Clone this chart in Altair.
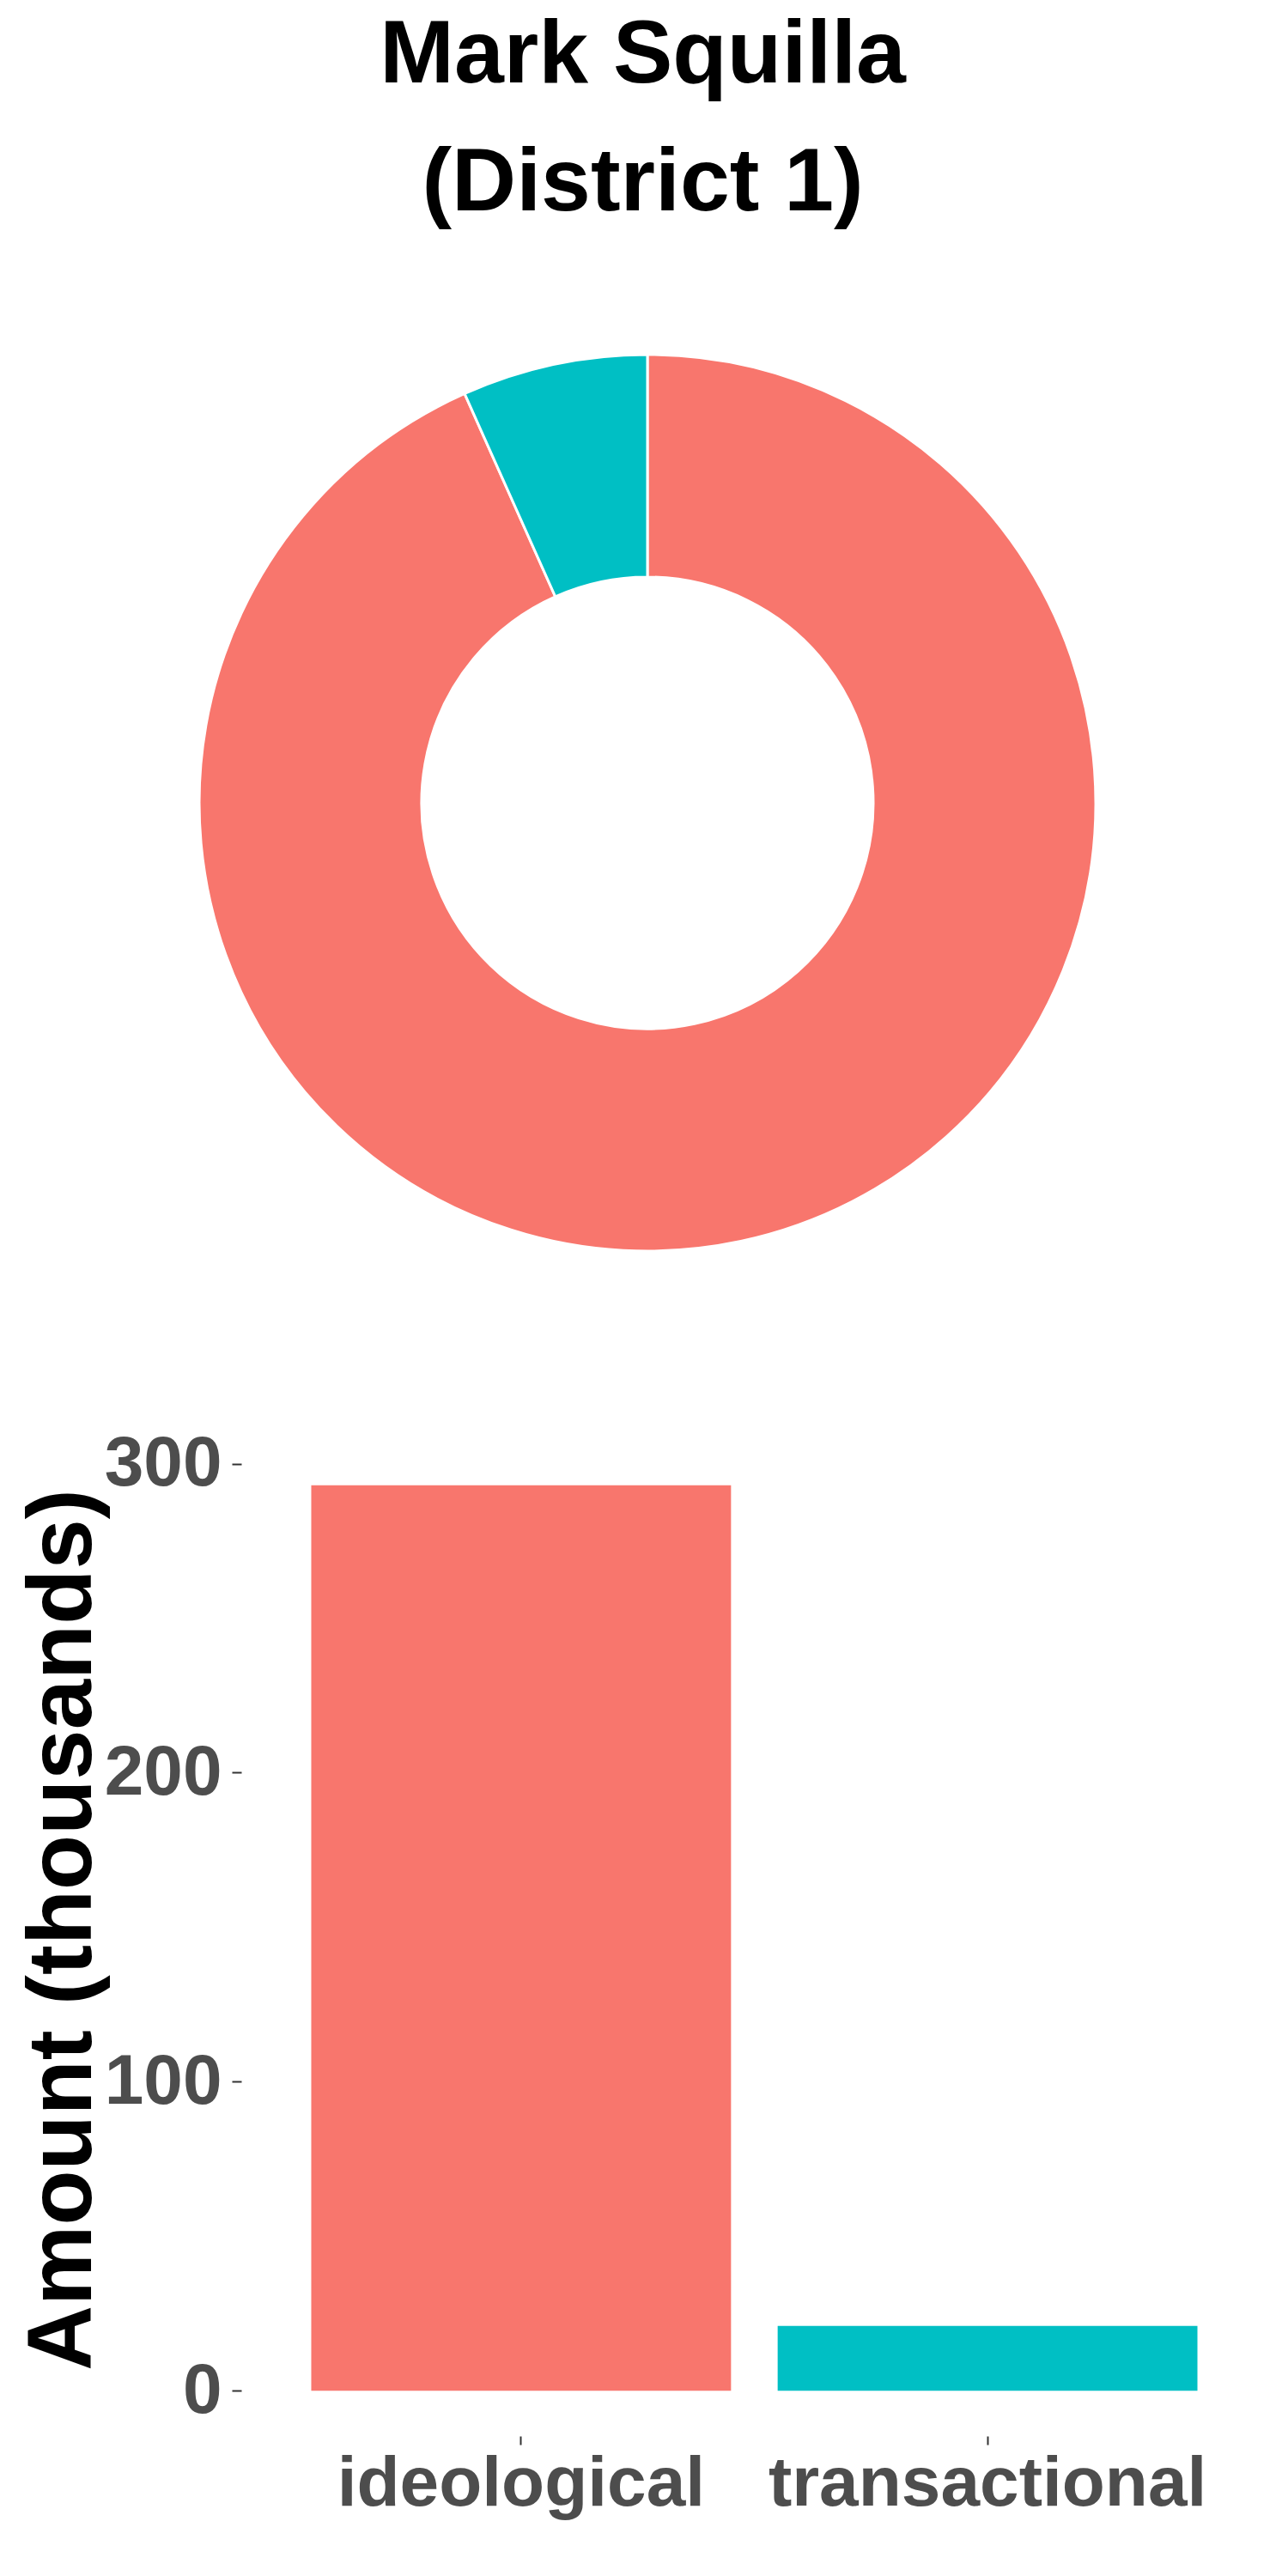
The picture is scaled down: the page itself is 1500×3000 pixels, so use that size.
import altair as alt
import pandas as pd

# Data (amounts in thousands)
categories = ["ideological", "transactional"]
amounts = [293, 21]
colors = ["#F8766D", "#00BFC4"]
y_ticks = [0, 100, 200, 300]

df = pd.DataFrame({"type": categories, "amount": amounts})

FONT = "Liberation Sans"
color = alt.Color("type:N", scale=alt.Scale(domain=categories, range=colors), legend=None)

donut = alt.Chart(df).mark_arc(
    innerRadius=263, outerRadius=522, stroke="white", strokeWidth=3
).encode(
    theta=alt.Theta("amount:Q", stack=True),
    color=color,
    order=alt.Order("type:N", sort="ascending"),
).properties(width=946, height=1100)

ymax = max(amounts)
bars = alt.Chart(df).mark_bar().encode(
    x=alt.X(
        "type:N",
        sort=categories,
        scale=alt.Scale(paddingInner=0.1, paddingOuter=0.15),
        axis=alt.Axis(
            title=None, labelAngle=0, labelFont=FONT, labelFontSize=82,
            labelFontWeight="bold", labelColor="#4D4D4D", tickSize=10,
            tickWidth=2, tickColor="#333333", labelPadding=5, domain=False,
            grid=False, labelLimit=0,
        ),
    ),
    y=alt.Y(
        "amount:Q",
        scale=alt.Scale(domain=[-0.05 * ymax, 1.05 * ymax], nice=False, zero=False),
        axis=alt.Axis(
            title="Amount (thousands)", values=y_ticks, labelFont=FONT,
            labelFontSize=82, labelFontWeight="bold", labelColor="#4D4D4D",
            tickSize=11, tickWidth=2, tickColor="#333333", labelPadding=12,
            domain=False, grid=False, titleFont=FONT, titleFontSize=105,
            titleFontWeight="bold", titleColor="black", titlePadding=-6,
            titleY=570,
        ),
    ),
    y2=alt.datum(0),
    color=color,
).properties(width=1195, height=1160)

chart = alt.vconcat(donut, bars, spacing=178).properties(
    title=alt.TitleParams(
        ["Mark Squilla", "(District 1)"], anchor="middle", fontSize=104,
        font=FONT, fontWeight="bold", lineHeight=149, offset=118, color="black",
    ),
    padding={"left": 21, "top": 13, "right": 0, "bottom": 10},
).configure_view(stroke=None)

chart.save("out.html", embed_options={"renderer": "svg", "actions": False})
